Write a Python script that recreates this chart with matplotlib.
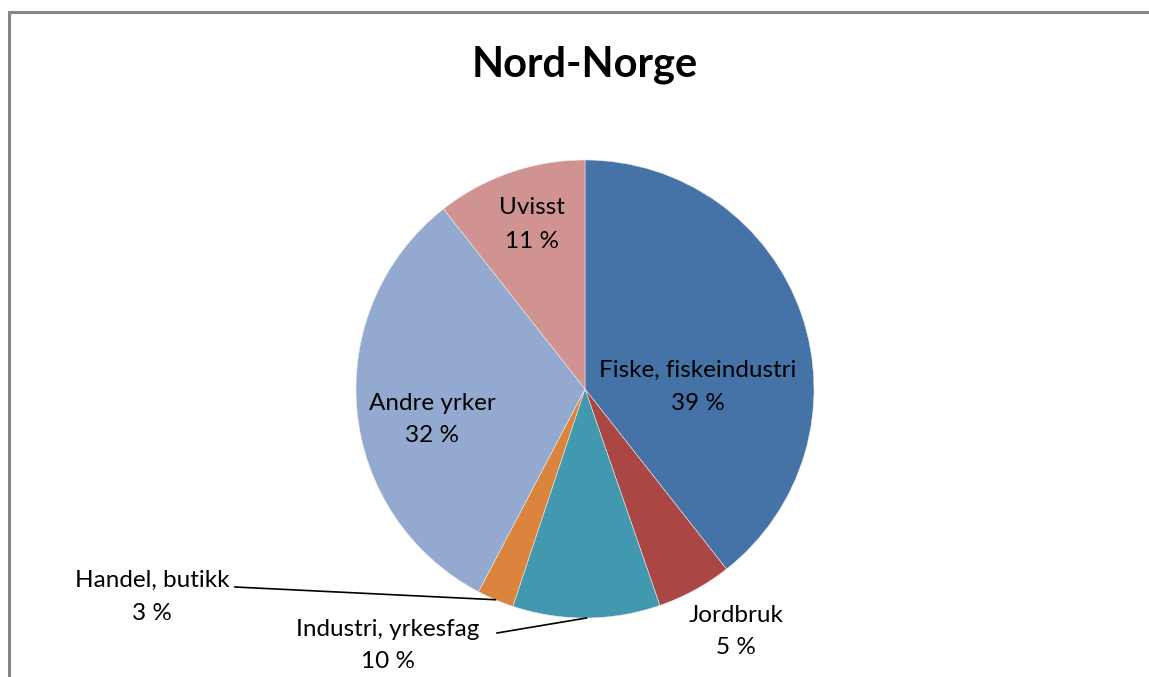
import matplotlib.pyplot as plt
import numpy as np
from matplotlib.patches import Rectangle

# chart data
title = "Nord-Norge"
categories = ["Fiske, fiskeindustri", "Jordbruk", "Industri, yrkesfag",
              "Handel, butikk", "Andre yrker", "Uvisst"]
shares = [39.4, 5.3, 10.4, 2.6, 31.7, 10.6]
pct_labels = ["39 %", "5 %", "10 %", "3 %", "32 %", "11 %"]
colors = ["#4572A7", "#AA4643", "#4198AF", "#DB843D", "#93A9CF", "#D19392"]

# layout (pixel positions, y measured from top)
W, H = 1149, 677
center = (585, 389)
radius = 229
label_pos = [(698, 386), (736, 631), (388, 645), (152, 596), (432, 419), (532, 224)]
leader_start = {2: (497, 633), 3: (235, 587)}

plt.rcParams['font.family'] = ['Lato', 'DejaVu Sans']


def py(y):
    return H - y


fig = plt.figure(figsize=(W / 100, H / 100), dpi=100)
ax = fig.add_axes([0, 0, 1, 1])

wedges, _ = ax.pie(shares, colors=colors, startangle=90, counterclock=False,
                   center=(center[0], py(center[1])), radius=radius, frame=True,
                   wedgeprops=dict(linewidth=0.4, edgecolor="#e8e8e8"))
ax.set_xlim(0, W)
ax.set_ylim(0, H)
ax.set_aspect('equal')
ax.axis('off')

# chart border
ax.add_patch(Rectangle((9, -20), W + 20, py(12) + 20, fill=False,
                       edgecolor="#878787", linewidth=2.2))

ax.text(585, py(77), title, ha='center', va='baseline', fontsize=30,
        fontweight='bold', color='black')

for i, (name, pct) in enumerate(zip(categories, pct_labels)):
    x, y = label_pos[i]
    ax.text(x, py(y - 16), name, ha='center', va='center', fontsize=17.5, color='black')
    ax.text(x, py(y + 17), pct, ha='center', va='center', fontsize=17.5, color='black')

# leader lines to the middle of small slices
for i, (sx, sy) in leader_start.items():
    w = wedges[i]
    mid = np.deg2rad((w.theta1 + w.theta2) / 2)
    ex = w.center[0] + w.r * np.cos(mid)
    ey = w.center[1] + w.r * np.sin(mid)
    ax.plot([sx, ex], [py(sy), ey], color='black', linewidth=1.2)

fig.savefig("out.png", dpi=100)
